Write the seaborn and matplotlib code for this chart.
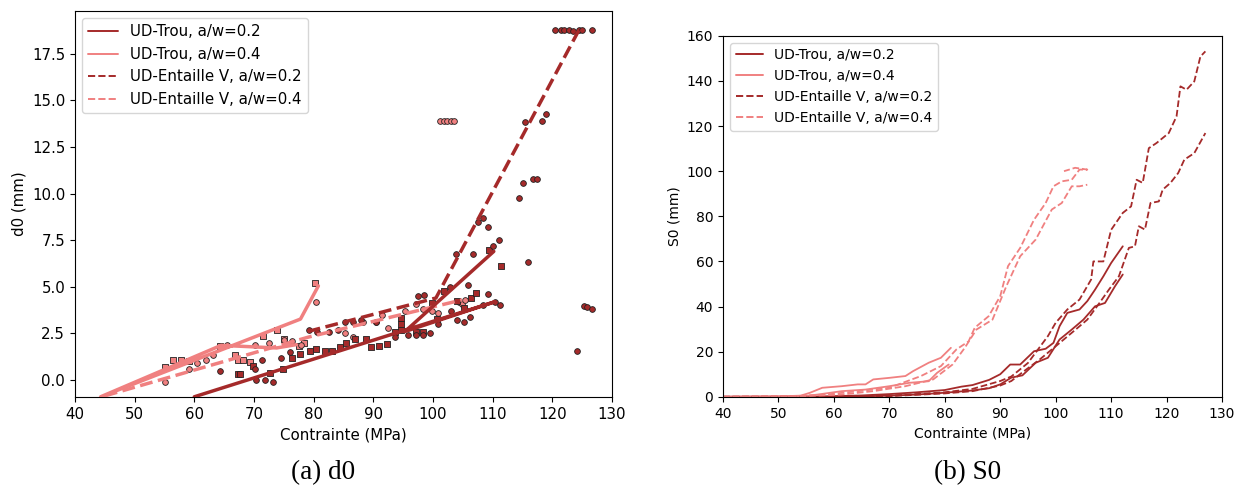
import pandas as pd
import seaborn as sns
import matplotlib.pyplot as plt
from matplotlib.lines import Line2D

# -----------------------------
# Colours / labels
# -----------------------------
dark = "#A52A2A"
light = "#F08080"
labels = ["UD-Trou, a/w=0.2", "UD-Trou, a/w=0.4",
          "UD-Entaille V, a/w=0.2", "UD-Entaille V, a/w=0.4"]

# -----------------------------
# (a) d0 : measured points
# -----------------------------
trou04_x = [55.1, 56.5, 57.7, 59.1, 64.3, 66.9, 67.4, 68.2, 69.3, 71.6, 73.8, 75.0, 77.6, 78.4, 80.3]
trou04_y = [0.7, 1.1, 1.1, 1.0, 1.85, 1.35, 1.1, 1.05, 0.95, 2.35, 2.7, 2.2, 1.8, 2.0, 5.2]

ent04_x = [55.1, 59.1, 60.5, 61.9, 63.1, 65.5, 70.2, 72.5, 75.1, 76.3, 77.9, 80.4, 85.2, 86.6,
           88.2, 90.5, 91.4, 92.5, 95.3, 97.2, 98.4, 99.8, 100.8, 101.2, 101.8, 102.4, 103.0,
           103.6, 104.3, 104.9, 105.3]
ent04_y = [-0.1, 0.6, 0.9, 1.1, 1.35, 1.9, 1.9, 2.0, 2.15, 2.1, 1.9, 4.2, 2.5, 2.3,
           3.1, 3.1, 3.5, 2.8, 3.7, 4.1, 3.8, 3.7, 3.6, 13.9, 13.9, 13.9, 13.9,
           13.9, 4.2, 4.1, 4.3]

trou02_x = [67.4, 67.6, 69.9, 72.7, 74.9, 76.3, 77.7, 79.4, 80.4, 81.9, 83.1, 84.4, 85.5, 86.9,
            88.7, 89.7, 91.0, 92.3, 93.6, 94.7, 94.7, 94.7, 97.1, 98.4, 99.8, 100.6, 101.8,
            104.0, 105.2, 106.3, 107.3, 109.4, 111.4]
trou02_y = [0.3, 0.3, 0.75, 0.4, 0.6, 1.2, 1.4, 1.55, 1.65, 1.55, 1.55, 1.75, 2.0, 2.2,
            2.2, 1.75, 1.85, 1.95, 2.6, 2.7, 3.0, 3.35, 2.6, 2.6, 4.15, 3.25, 4.75,
            4.25, 3.85, 4.4, 4.65, 6.95, 6.1]

ent02_x = [64.3, 70.2, 70.4, 71.3, 71.8, 73.2, 74.6, 76.0, 79.2, 80.6, 82.6, 84.1, 85.2, 86.6,
           88.0, 90.5, 93.6, 95.8, 97.1, 98.4, 99.5, 97.5, 98.5, 100.8, 102.8, 103.1, 104.0,
           105.2, 105.8, 106.2, 108.4, 109.2, 110.4, 111.2, 103.8, 106.7, 107.5, 108.4, 109.3,
           110.1, 111.0, 114.4, 115.1, 115.5, 115.9, 116.7, 117.5, 118.2, 119.0, 120.5, 121.4,
           122.0, 122.8, 123.5, 124.5, 125.0, 126.6, 124.2, 125.4, 125.8, 126.6]
ent02_y = [0.5, 0.6, 0.0, 1.1, 0.0, -0.1, 1.2, 1.5, 2.7, 2.6, 2.6, 2.7, 3.1, 3.1,
           3.2, 3.1, 2.3, 2.4, 2.4, 2.4, 2.5, 4.5, 4.55, 3.0, 5.0, 3.7, 3.2,
           3.1, 5.1, 3.4, 4.0, 4.6, 4.2, 4.0, 6.75, 6.75, 8.45, 8.7, 8.2,
           7.2, 7.5, 9.75, 10.55, 13.85, 6.35, 10.8, 10.8, 13.9, 14.25, 18.8, 18.8,
           18.8, 18.75, 18.7, 18.8, 18.8, 18.8, 1.55, 3.95, 3.9, 3.8]

# (a) d0 : fitted lines
trou02_fit_x = [60.0, 110.4, 95.3, 110.2]
trou02_fit_y = [-0.9, 4.2, 2.6, 6.9]
trou04_fit_x = [80.8, 77.8, 44.3, 64.5, 73.8, 77.1]
trou04_fit_y = [5.05, 3.27, -0.9, 1.86, 1.72, 1.9]
ent02_fit_x = [79.0, 100.5, 124.6]
ent02_fit_y = [2.6, 4.4, 18.85]
ent04_fit_x = [45.0, 79.1, 104.9]
ent04_fit_y = [-0.85, 2.3, 4.3]

# -----------------------------
# (b) S0 : curves (two specimens per configuration)
# -----------------------------
s_trou02a_x = [40, 55, 60, 65, 70, 75, 80, 83, 85, 88, 90, 91.8, 93.6, 96.1, 98.2, 99.6, 100.7,
               102.1, 104.3, 105.7, 107.1, 108.6, 110, 112.1]
s_trou02a_y = [0, 0, 0.3, 0.6, 1.2, 2.0, 3.0, 4.5, 5.2, 7.5, 10, 14.3, 14.3, 20.2, 21.3, 23.9, 31.3,
               37.2, 38.7, 42.4, 47.5, 53.4, 59.3, 66.7]
s_trou02b_x = [40, 60, 65, 70, 75, 80, 85, 88, 90, 92, 94, 96.4, 98.6, 100.7, 102.9, 105, 107.1,
               108.9, 110.7, 112.1]
s_trou02b_y = [0, 0, 0.2, 0.5, 1.0, 1.8, 2.8, 3.8, 5.5, 8.5, 9.5, 15.1, 17.3, 25.4, 29.8, 34.2, 40.1,
               41.6, 49, 54.2]
s_ent02a_x = [40, 60, 70, 80, 85, 90, 92, 95, 98.6, 100, 102.1, 104.3, 106.4, 106.8, 108.6, 110,
              112.1, 113.6, 114.6, 115.7, 116.8, 118.2, 120.4, 121.8, 122.5, 123.6, 125, 126.1, 127]
s_ent02a_y = [0, 0, 0.5, 2.0, 3.5, 7.0, 9.0, 15, 26.9, 32.8, 38.7, 43.1, 52, 60, 60, 74,
              81.5, 84.4, 96.2, 94.8, 110.2, 112.5, 116.9, 124.3, 137.6, 136.1, 139.8, 150.8, 153.1]
s_ent02b_x = [40, 60, 70, 80, 85, 90, 92, 94.3, 97.1, 100, 103.6, 105.7, 107.9, 109.6, 111.4,
              113.2, 114.3, 115, 116.1, 117.1, 118.6, 119.3, 120.7, 122.1, 123.2, 125, 127]
s_ent02b_y = [0, 0, 0.3, 1.5, 2.5, 5.0, 7.0, 11.4, 16.5, 22.4, 29.8, 34.2, 41.6, 47.5, 53.4,
              66, 66.7, 75.6, 74.1, 85.9, 86.6, 91.8, 94.8, 99.2, 105.1, 108, 116.9]
s_trou04a_x = [40, 50, 54, 55.7, 57.9, 61.4, 64.3, 65.7, 67.1, 70, 72.9, 74.3, 77.1, 79.3, 81.1]
s_trou04a_y = [0, 0.2, 0.5, 1.8, 4.0, 4.7, 5.5, 5.5, 7.7, 8.4, 9.2, 11.4, 15.1, 17.3, 21.7]
s_trou04b_x = [40, 50, 55, 57.1, 61.4, 65.7, 70, 73.6, 77.1, 78.6, 80.7]
s_trou04b_y = [0, 0.1, 0.4, 1.0, 2.5, 3.2, 4.7, 6.2, 6.9, 10.6, 14.3]
s_ent04a_x = [40, 52, 58.6, 64.3, 70, 75.7, 79.3, 82.1, 84.3, 85.4, 87.9, 90, 91.4, 93.6, 96.1,
              98.2, 99.6, 101.1, 102.9, 104.3, 105.7, 103.5, 101.5]
s_ent04a_y = [0, 0.2, 1.0, 2.5, 4.0, 9.2, 13.6, 21, 24.6, 30.6, 35.7, 44.6, 57.9, 66, 78.5,
              85.9, 93.3, 95.5, 96.2, 100.7, 100.7, 101.5, 100]
s_ent04b_x = [40, 54, 61.4, 67.1, 72.9, 77.9, 81.4, 83.6, 85.7, 88.6, 91.1, 93.6, 96.4, 99.3,
              101.1, 102.9, 104.3, 105.7]
s_ent04b_y = [0, 0.2, 1.0, 2.5, 4.7, 7.7, 14.3, 21.7, 29.8, 34.2, 49, 62.3, 69.7, 83,
              85.9, 93.3, 93.3, 94]

# -----------------------------
# Figure
# -----------------------------
sns.set_style("ticks")
plt.rcParams["font.family"] = ["DejaVu Sans"]
plt.rcParams["axes.edgecolor"] = "black"
plt.rcParams["xtick.color"] = "black"
plt.rcParams["ytick.color"] = "black"
plt.rcParams["text.color"] = "black"
plt.rcParams["axes.labelcolor"] = "black"

fig = plt.figure(figsize=(12.41, 4.96), dpi=100)
ax1 = fig.add_axes([0.0604, 0.2, 0.4327, 0.778])
ax2 = fig.add_axes([0.5826, 0.2, 0.4021, 0.7278])

legend_handles = [
    Line2D([], [], color=dark, lw=1.4, ls="-"),
    Line2D([], [], color=light, lw=1.4, ls="-"),
    Line2D([], [], color=dark, lw=1.4, ls="--"),
    Line2D([], [], color=light, lw=1.4, ls="--"),
]

# ---- (a) d0 ----
fs_a = 10.8
pts = dict(s=17, edgecolor="#222222", linewidth=0.6, zorder=3)
sns.scatterplot(x=trou04_x, y=trou04_y, color=light, marker="s", ax=ax1, **pts)
sns.scatterplot(x=ent04_x, y=ent04_y, color=light, marker="o", ax=ax1, **pts)
sns.scatterplot(x=trou02_x, y=trou02_y, color=dark, marker="s", ax=ax1, **pts)
sns.scatterplot(x=ent02_x, y=ent02_y, color=dark, marker="o", ax=ax1, **pts)

fit = dict(sort=False, estimator=None, lw=2.5, ax=ax1, zorder=4)
sns.lineplot(x=trou04_fit_x, y=trou04_fit_y, color=light, **fit)
sns.lineplot(x=ent04_fit_x, y=ent04_fit_y, color=light, ls="--", **fit)
sns.lineplot(x=trou02_fit_x, y=trou02_fit_y, color=dark, **fit)
sns.lineplot(x=ent02_fit_x, y=ent02_fit_y, color=dark, ls="--", **fit)

ax1.set_xlim(40, 130)
ax1.set_ylim(-0.9, 19.8)
ax1.set_yticks([0, 2.5, 5, 7.5, 10, 12.5, 15, 17.5])
ax1.set_xlabel("Contrainte (MPa)", fontsize=fs_a)
ax1.set_ylabel("d0 (mm)", fontsize=fs_a)
ax1.tick_params(labelsize=fs_a)
ax1.legend(legend_handles, labels, loc="upper left", fontsize=fs_a)

# ---- (b) S0 ----
fs_b = 10.0
crv = dict(sort=False, estimator=None, lw=1.3, ax=ax2)
for xs, ys in [(s_trou02a_x, s_trou02a_y), (s_trou02b_x, s_trou02b_y)]:
    sns.lineplot(x=xs, y=ys, color=dark, **crv)
for xs, ys in [(s_trou04a_x, s_trou04a_y), (s_trou04b_x, s_trou04b_y)]:
    sns.lineplot(x=xs, y=ys, color=light, **crv)
for xs, ys in [(s_ent02a_x, s_ent02a_y), (s_ent02b_x, s_ent02b_y)]:
    sns.lineplot(x=xs, y=ys, color=dark, ls="--", **crv)
for xs, ys in [(s_ent04a_x, s_ent04a_y), (s_ent04b_x, s_ent04b_y)]:
    sns.lineplot(x=xs, y=ys, color=light, ls="--", **crv)

ax2.set_xlim(40, 130)
ax2.set_ylim(0, 160)
ax2.set_xlabel("Contrainte (MPa)", fontsize=fs_b)
ax2.set_ylabel("S0 (mm)", fontsize=fs_b)
ax2.tick_params(labelsize=fs_b)
ax2.legend(legend_handles, labels, loc="upper left", fontsize=fs_b)

# captions
fig.text(0.26, 0.035, "(a) d0", family=["Liberation Serif"], fontsize=19.5, ha="center")
fig.text(0.78, 0.035, "(b) S0", family=["Liberation Serif"], fontsize=19.5, ha="center")

plt.savefig("out.png", dpi=100)
